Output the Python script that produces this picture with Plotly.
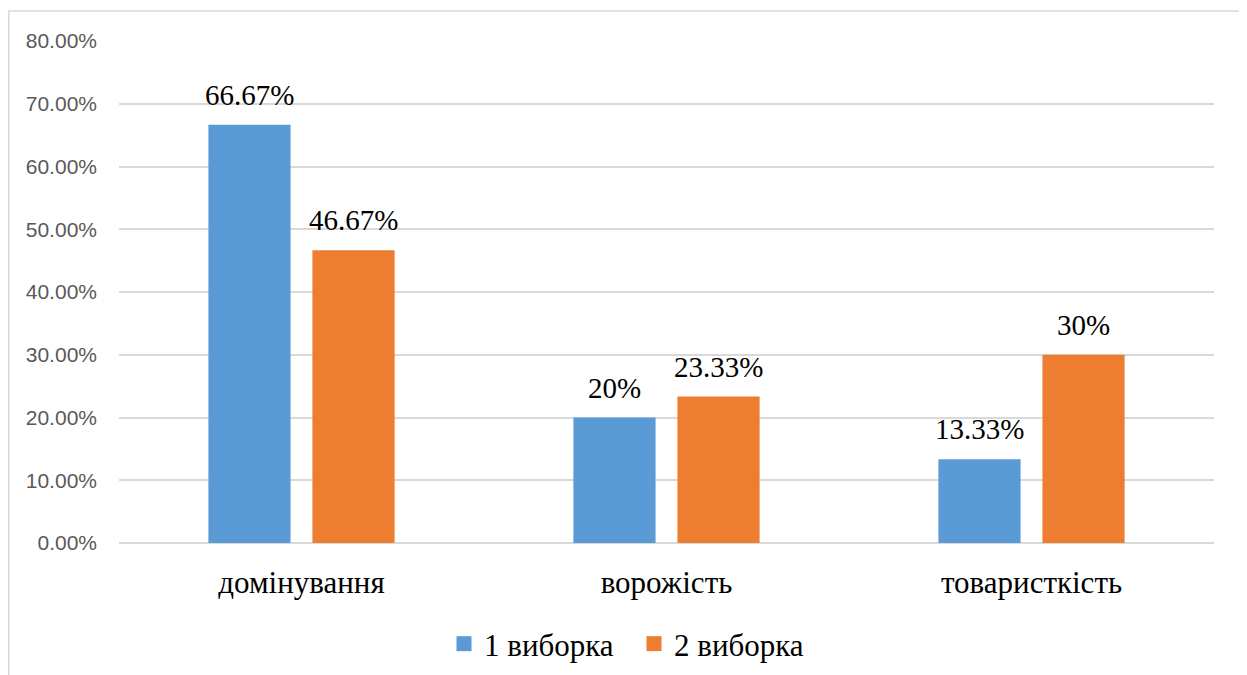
import plotly.graph_objects as go

categories = ["домінування", "ворожість", "товаристкість"]
series_names = ["1 виборка", "2 виборка"]
sample1 = [66.67, 20.00, 13.33]
sample2 = [46.67, 23.33, 30.00]
colors = ["#5B9BD5", "#ED7D31"]

SERIF = "Liberation Serif, Times New Roman, serif"


def fmt(v):
    s = f"{v:.2f}".rstrip("0").rstrip(".")
    return s + "%"


# page body has an 8px margin; work in page coordinates minus 8
OFF = 8
W, H = 1247 - OFF, 675 - OFF
L, R, T, B = 119 - OFF, 1214 - OFF, 41 - OFF, 543 - OFF
pw, ph = R - L, B - T

BARGAP = 0.43
BARGROUPGAP = 0.21

fig = go.Figure()
series = [sample1, sample2]
for name, vals, col in zip(series_names, series, colors):
    fig.add_trace(go.Bar(
        x=categories,
        y=[v / 100 for v in vals],
        name=name,
        marker=dict(color=col, line=dict(width=0)),
        showlegend=False,
    ))
# legend entries with larger square markers
for name, col in zip(series_names, colors):
    fig.add_trace(go.Scatter(
        x=[None], y=[None], name=name, mode="markers",
        marker=dict(symbol="square", size=15, color=col),
        showlegend=True,
    ))

# data labels above the bars
slot_px = pw / len(categories) * (1 - BARGAP) / 2
annotations = []
for i, vals in enumerate(series):
    shift = (i - 0.5) * slot_px
    for c, v in zip(categories, vals):
        annotations.append(dict(
            x=c, y=v / 100, xref="x", yref="y",
            text=fmt(v), showarrow=False,
            xanchor="center", yanchor="bottom",
            xshift=shift, yshift=12,
            font=dict(family=SERIF, size=29, color="#000000"),
        ))

fig.update_layout(
    width=W, height=H,
    margin=dict(l=L, r=W - R, t=T, b=H - B, autoexpand=False),
    paper_bgcolor="white",
    plot_bgcolor="white",
    barmode="group",
    bargap=BARGAP,
    bargroupgap=BARGROUPGAP,
    showlegend=True,
    legend=dict(
        orientation="h",
        x=(634 - OFF - L) / pw, xanchor="center",
        y=(B - (644 - OFF)) / ph, yanchor="middle",
        font=dict(family=SERIF, size=31, color="#000000"),
        itemsizing="trace",
        traceorder="normal",
        entrywidth=145,
    ),
    xaxis=dict(
        showgrid=False,
        showline=False,
        ticks="",
        tickfont=dict(family=SERIF, size=31, color="#000000"),
        ticklabelstandoff=18,
    ),
    yaxis=dict(
        range=[0, 0.8],
        dtick=0.1,
        tickformat=".2%",
        showgrid=True,
        gridcolor="#D9D9D9",
        gridwidth=1.5,
        zeroline=True,
        zerolinecolor="#D9D9D9",
        zerolinewidth=1.5,
        showline=False,
        ticks="",
        tickfont=dict(family="Liberation Sans, Arial, sans-serif", size=21, color="#595959"),
        ticklabelstandoff=21,
    ),
    annotations=annotations,
    shapes=[dict(
        type="rect", xref="paper", yref="paper",
        x0=(0.75 - L) / pw, x1=(1243 - OFF - L) / pw,
        y0=(B - 700) / ph, y1=(B - (11 - OFF)) / ph,
        line=dict(color="#D9D9D9", width=1.5),
        fillcolor="rgba(0,0,0,0)",
        layer="below",
    )],
)

fig.write_html("out.html")
